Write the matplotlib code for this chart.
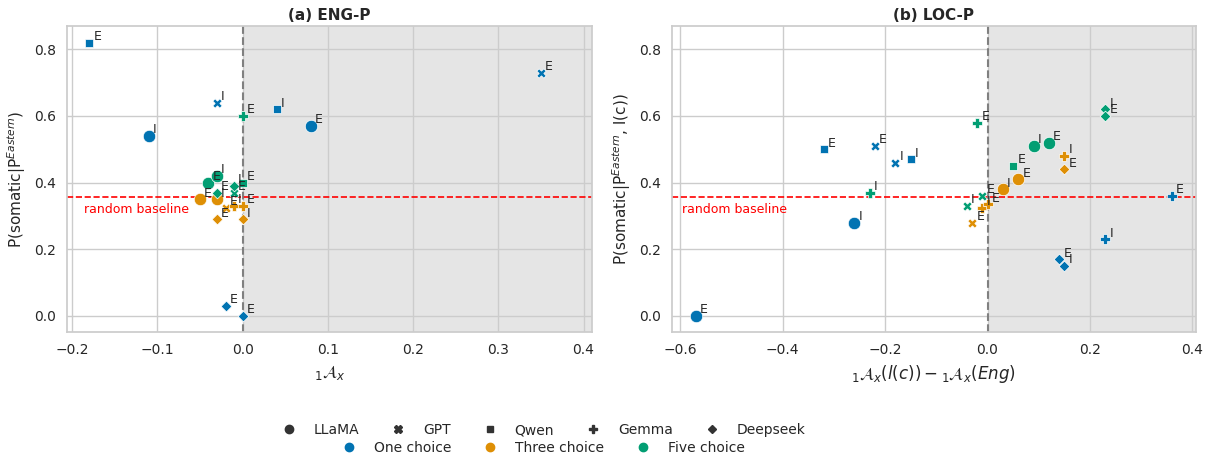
import matplotlib
matplotlib.use("Agg")
import matplotlib.pyplot as plt
import seaborn as sns
from matplotlib.lines import Line2D

sns.set_theme(style="whitegrid")
plt.rcParams['font.family'] = ['DejaVu Sans']

# ---------------- data ----------------
# panel (a) ENG-P
a_model = ["LLaMA", "LLaMA", "GPT", "GPT", "Qwen", "Qwen", "Deepseek", "Deepseek",
           "LLaMA", "LLaMA", "GPT", "Gemma", "Gemma", "Deepseek", "Deepseek",
           "LLaMA", "LLaMA", "GPT", "Qwen", "Gemma", "Deepseek", "Deepseek"]
a_choice = ["One", "One", "One", "One", "One", "One", "One", "One",
            "Three", "Three", "Three", "Three", "Three", "Three", "Three",
            "Five", "Five", "Five", "Five", "Five", "Five", "Five"]
a_label = ["E", "I", "E", "I", "E", "I", "E", "E",
           "E", "I", "E", "I", "E", "E", "I",
           "E", "I", "E", "E", "E", "I", "E"]
a_x = [0.08, -0.11, 0.35, -0.03, -0.18, 0.04, -0.02, 0.0,
       -0.05, -0.03, -0.02, -0.01, 0.0, -0.03, 0.0,
       -0.04, -0.03, -0.01, 0.0, 0.0, -0.01, -0.03]
a_y = [0.57, 0.54, 0.73, 0.64, 0.82, 0.62, 0.03, 0.0,
       0.35, 0.35, 0.325, 0.33, 0.33, 0.29, 0.29,
       0.40, 0.42, 0.37, 0.40, 0.60, 0.39, 0.37]

# panel (b) LOC-P
b_model = ["LLaMA", "LLaMA", "Qwen", "Qwen", "GPT", "GPT", "Gemma", "Gemma", "Deepseek", "Deepseek",
           "LLaMA", "LLaMA", "Gemma", "Deepseek", "GPT", "Gemma", "Gemma",
           "LLaMA", "LLaMA", "Qwen", "Gemma", "Gemma", "GPT", "GPT", "Deepseek", "Deepseek"]
b_choice = ["One"] * 10 + ["Three"] * 7 + ["Five"] * 9
b_label = ["E", "I", "E", "I", "E", "I", "E", "I", "E", "I",
           "I", "E", "I", "E", "E", "I", "E",
           "I", "E", "E", "I", "E", "I", "E", "I", "E"]
b_x = [-0.57, -0.26, -0.32, -0.15, -0.22, -0.18, 0.36, 0.23, 0.14, 0.15,
       0.03, 0.06, 0.15, 0.15, -0.03, -0.01, 0.0,
       0.09, 0.12, 0.05, -0.23, -0.02, -0.04, -0.01, 0.23, 0.23]
b_y = [0.0, 0.28, 0.50, 0.47, 0.51, 0.46, 0.36, 0.23, 0.17, 0.15,
       0.38, 0.41, 0.48, 0.44, 0.28, 0.325, 0.335,
       0.51, 0.52, 0.45, 0.37, 0.58, 0.33, 0.36, 0.62, 0.60]

random_baseline = 0.357

models = ["LLaMA", "GPT", "Qwen", "Gemma", "Deepseek"]
choices = ["One", "Three", "Five"]
choice_names = ["One choice", "Three choice", "Five choice"]

# ---------------- style ----------------
markers = {"LLaMA": "o", "GPT": "X", "Qwen": "s", "Gemma": "P", "Deepseek": "D"}
sizes = {"LLaMA": 80, "GPT": 45, "Qwen": 30, "Gemma": 45, "Deepseek": 30}
leg_ms = {"LLaMA": 6, "GPT": 5.5, "Qwen": 4.5, "Gemma": 6, "Deepseek": 4.5}
pal = sns.color_palette("colorblind")
colors = {"One": pal[0], "Three": pal[1], "Five": pal[2]}

fig = plt.figure(figsize=(12.11, 4.59), dpi=100)
axa = fig.add_axes([0.0553, 0.2767, 0.4336, 0.6667])
axb = fig.add_axes([0.5547, 0.2767, 0.4327, 0.6667])


def draw(ax, mdl, ch, lab, xs, ys, xlim, title, ylabel, xlabel, txt_x):
    ax.set_xlim(*xlim)
    ax.set_ylim(-0.048, 0.87)
    ax.axvspan(0, xlim[1], color="gray", alpha=0.2, lw=0, zorder=0.5)
    ax.axvline(0, color="gray", ls="--", lw=1.5, zorder=1)
    ax.axhline(random_baseline, color="red", ls="--", lw=1.2, zorder=1)
    ax.text(txt_x, 0.32, "random baseline", color="red", fontsize=9, va="center")
    for m, c, l, x, y in zip(mdl, ch, lab, xs, ys):
        ax.scatter([x], [y], marker=markers[m], s=sizes[m], color=colors[c],
                   edgecolor="white", linewidth=0.5, zorder=3)
        ax.annotate(l, (x, y), xytext=(3, 2), textcoords="offset points",
                    fontsize=9, color="#262626", ha="left", va="baseline", zorder=4)
    ax.set_title(title, fontsize=11, fontweight="bold", pad=4)
    ax.set_ylabel(ylabel, fontsize=11)
    ax.set_xlabel(xlabel, fontsize=12)
    ax.tick_params(labelsize=10, pad=2)
    ax.set_yticks([0.0, 0.2, 0.4, 0.6, 0.8])


draw(axa, a_model, a_choice, a_label, a_x, a_y, (-0.206, 0.41), "(a) ENG-P",
     r"P(somatic|P$^{Eastern}$)", r"$_1\mathcal{A}_x$", -0.186)
axa.set_xticks([-0.2, -0.1, 0.0, 0.1, 0.2, 0.3, 0.4])
draw(axb, b_model, b_choice, b_label, b_x, b_y, (-0.6165, 0.4065), "(b) LOC-P",
     r"P(somatic|P$^{Eastern}$, l(c))",
     r"$_1\mathcal{A}_x(l(c)) - {}_1\mathcal{A}_x(Eng)$", -0.596)
axb.set_xticks([-0.6, -0.4, -0.2, 0.0, 0.2, 0.4])

# legends
h_models = [Line2D([], [], ls="", marker=markers[m], color="#333333", markersize=leg_ms[m])
            for m in models]
h_choice = [Line2D([], [], ls="", marker="o", color=colors[c], markersize=6)
            for c in choices]
fig.legend(h_models, models, loc="center", bbox_to_anchor=(0.449, 0.063), ncol=5,
           frameon=False, fontsize=10, handlelength=1.0, handletextpad=1.3,
           columnspacing=2.3, borderpad=0, borderaxespad=0)
fig.legend(h_choice, choice_names, loc="center", bbox_to_anchor=(0.449, 0.024), ncol=3,
           frameon=False, fontsize=10, handlelength=1.0, handletextpad=1.3,
           columnspacing=2.3, borderpad=0, borderaxespad=0)

fig.savefig("out.png", dpi=100)
